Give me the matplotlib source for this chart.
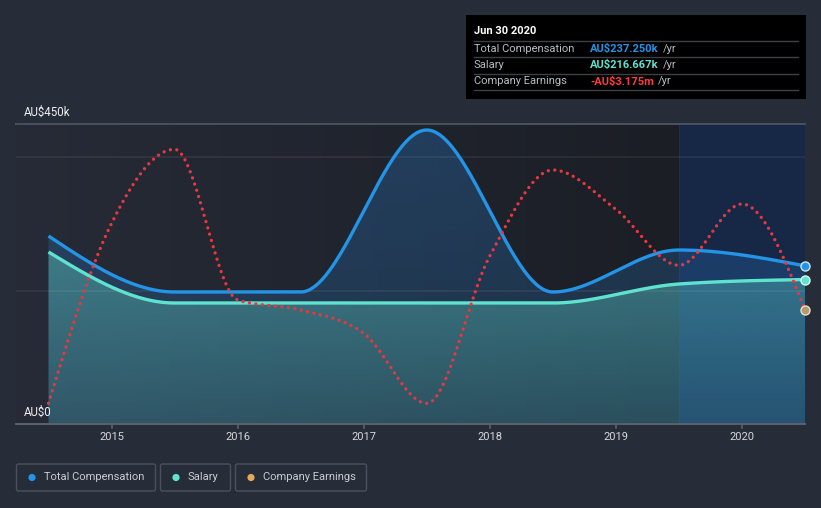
import numpy as np
import matplotlib
matplotlib.use("Agg")
import matplotlib.pyplot as plt
from matplotlib.patches import FancyBboxPatch, Rectangle, Circle
from matplotlib.colors import to_rgb

# ---------------- data ----------------
comp_years = [2014.5, 2015.5, 2016.5, 2017.5, 2018.5, 2019.5, 2020.5]
total_comp = [282, 198, 198, 441, 198, 261, 237.25]          # AU$ k
salary = [258, 181.5, 181.5, 181.5, 181.5, 210, 216.667]      # AU$ k

earn_years = [2014.5, 2015.0, 2015.5, 2016.0, 2016.5, 2017.0, 2017.5,
              2018.0, 2018.5, 2019.0, 2019.5, 2020.0, 2020.5]
# company earnings, drawn on its own (hidden) scale, in display units
earnings_display = [31, 301, 412, 186, 171, 136, 31, 252, 381, 322, 238, 330, 171]

year_ticks = [2015, 2016, 2017, 2018, 2019, 2020]
y_labels = {0: "AU$0", 450: "AU$450k"}
highlight_start = 2019.5

tooltip_title = "Jun 30 2020"
tooltip_rows = [("Total Compensation", "AU$237.250k"),
                ("Salary", "AU$216.667k"),
                ("Company Earnings", "-AU$3.175m")]
legend_labels = ["Total Compensation", "Salary", "Company Earnings"]

# ---------------- style ----------------
BG = "#262c38"
C_TOTAL = "#2394e6"
C_SAL = "#5fe3cf"
C_EARN = "#e8383f"
C_EARN_DOT = "#e5a85a"
TXT = "#d6d9de"
FONT = ["Roboto", "DejaVu Sans"]
plt.rcParams["font.family"] = FONT


def monotone_x(x, y, n=80):
    x = np.asarray(x, float)
    y = np.asarray(y, float)
    m = len(x)
    t = np.zeros(m)
    for i in range(1, m - 1):
        h0 = x[i] - x[i - 1]
        h1 = x[i + 1] - x[i]
        s0 = (y[i] - y[i - 1]) / h0
        s1 = (y[i + 1] - y[i]) / h1
        p = (s0 * h1 + s1 * h0) / (h0 + h1)
        t[i] = (np.sign(s0) + np.sign(s1)) * min(abs(s0), abs(s1), 0.5 * abs(p))
    h = x[1] - x[0]
    t[0] = (3 * (y[1] - y[0]) / h - t[1]) / 2
    h = x[-1] - x[-2]
    t[-1] = (3 * (y[-1] - y[-2]) / h - t[-2]) / 2
    xs, ys = [], []
    for i in range(m - 1):
        h = x[i + 1] - x[i]
        s = np.linspace(0, 1, n, endpoint=(i == m - 2))
        h00 = 2 * s**3 - 3 * s**2 + 1
        h10 = s**3 - 2 * s**2 + s
        h01 = -2 * s**3 + 3 * s**2
        h11 = s**3 - s**2
        xs.append(x[i] + s * h)
        ys.append(h00 * y[i] + h10 * h * t[i] + h01 * y[i + 1] + h11 * h * t[i + 1])
    return np.concatenate(xs), np.concatenate(ys)


W, H = 821, 508
fig = plt.figure(figsize=(W / 100, H / 100), dpi=100)
fig.patch.set_facecolor(BG)

ax_l, ax_r, ax_t, ax_b = 16, 805, 124, 424
ax = fig.add_axes([ax_l / W, (H - ax_b) / H, (ax_r - ax_l) / W, (ax_b - ax_t) / H])
x0 = 2014.5 - (48.5 - 16) / ((805 - 48.5) / 6)
x1 = 2020.5
ax.set_xlim(x0, x1)
ax.set_ylim(0, 450)
ax.set_facecolor("none")
for s in ax.spines.values():
    s.set_visible(False)
ax.set_xticks([])
ax.set_yticks([])

# background gradient (horizontal)
nx = 600
xx = np.linspace(x0, x1, nx)
cl = np.array(to_rgb("#262b37"))
cr = np.array(to_rgb("#1b1e25"))
frac = np.clip((xx - x0) / (highlight_start - x0), 0, 1)[:, None]
row = cl * (1 - frac) + cr * frac
hl = np.array(to_rgb("#17223a"))
row[xx >= highlight_start] = hl
img = np.repeat(row[None, :, :], 2, axis=0)
ax.imshow(img, extent=[x0, x1, 0, 450], aspect="auto", origin="lower", zorder=0,
          interpolation="nearest")


def gradient_fill(xs, ys, color, a_top, a_bot, z):
    poly = ax.fill_between(xs, 0, ys, facecolor="none", edgecolor="none", zorder=z)
    c = to_rgb(color)
    ny = 256
    arr = np.zeros((ny, 2, 4))
    arr[:, :, 0], arr[:, :, 1], arr[:, :, 2] = c
    arr[:, :, 3] = np.linspace(a_bot, a_top, ny)[:, None]
    im = ax.imshow(arr, extent=[xs.min(), xs.max(), 0, ys.max()], aspect="auto",
                   origin="lower", zorder=z, interpolation="bilinear")
    im.set_clip_path(poly.get_paths()[0], transform=ax.transData)


tx, ty = monotone_x(comp_years, total_comp)
sx, sy = monotone_x(comp_years, salary)
ex, ey = monotone_x(earn_years, earnings_display)

gradient_fill(tx, ty, "#2a7fd0", 0.30, 0.18, 1)
gradient_fill(sx, sy, "#5fcfc4", 0.42, 0.20, 2)

# highlight overlay on fills
ax.axvspan(highlight_start, x1, color="#1f6fd8", alpha=0.08, lw=0, zorder=2.5)
ax.axvline(highlight_start, color="#3a6ea8", alpha=0.12, lw=0.8, zorder=2.5)

# grid lines
for gy in (200, 400):
    ax.axhline(gy, color="white", alpha=0.07, lw=1.2, zorder=3)
ax.axhline(450, color="#4b515d", lw=1.4, zorder=3, clip_on=False)
ax.axhline(0, color="#5b616d", lw=1.4, zorder=6, clip_on=False)

# lines
ax.plot(tx, ty, color=C_TOTAL, lw=2.4, zorder=5, solid_capstyle="butt")
ax.plot(sx, sy, color=C_SAL, lw=2.4, zorder=5, solid_capstyle="butt")
ax.plot(ex, ey, color=C_EARN, lw=2.4, zorder=5, linestyle=(0, (0.01, 1.95)),
        dash_capstyle="round")

# end markers
ax.plot([comp_years[-1]], [total_comp[-1]], "o", ms=6.5, mfc=C_TOTAL, mec="#cfe6ff",
        mew=1.0, zorder=7, clip_on=False)
ax.plot([comp_years[-1]], [salary[-1]], "o", ms=6.5, mfc=C_SAL, mec="#dffaf5",
        mew=1.0, zorder=7, clip_on=False)
ax.plot([earn_years[-1]], [earnings_display[-1]], "o", ms=6.5, mfc="#b89a6a",
        mec="#e8e0d0", mew=1.0, zorder=7, clip_on=False)

# ticks
for yr in year_ticks:
    ax.plot([yr, yr], [0, -4 * 450 / 300], color="#5b616d", lw=1.2, clip_on=False, zorder=6)
    ax.text(yr, -13 * 450 / 300, str(yr), ha="center", va="center", color=TXT,
            fontsize=8, clip_on=False)

for v, lab in y_labels.items():
    ax.text(2014.5 - (48.5 - 24) / 126.1, v + 12 * 1.5, lab, ha="left", va="center",
            color="#eef0f2", fontsize=8.3, zorder=8)

# ---------------- overlay in pixel coordinates ----------------
ov = fig.add_axes([0, 0, 1, 1])
ov.set_xlim(0, W)
ov.set_ylim(H, 0)
ov.axis("off")
ov.patch.set_alpha(0)

# tooltip
ov.add_patch(Rectangle((466, 15), 340, 84, facecolor="#000000", edgecolor="none", zorder=1))
ov.text(474, 31, tooltip_title, color="white", fontsize=8, fontweight="bold",
        va="center", ha="left", zorder=2)
for yy in [40.5, 57, 73.5, 90]:
    ov.plot([474, 798], [yy, yy], color="#3c3f44", lw=1, zorder=2)
val_colors = [C_TOTAL, C_SAL, "#ff3c3c"]
row_y = [48.5, 65, 81.5]
fig.canvas.draw()
r = fig.canvas.get_renderer()
for (lab, val), c, yy in zip(tooltip_rows, val_colors, row_y):
    ov.text(474, yy, lab, color="#b8bcc2", fontsize=8, va="center", ha="left", zorder=2)
    t = ov.text(590, yy, val, color=c, fontsize=8, fontweight="bold", va="center",
                ha="left", zorder=2)
    bb = t.get_window_extent(renderer=r)
    ov.text(590 + bb.width + 4.5, yy, "/yr", color="#b8bcc2", fontsize=8, va="center",
            ha="left", zorder=2)

# legend
boxes = [(16, 156), (160, 231), (235, 367)]
dot_colors = [C_TOTAL, C_SAL, C_EARN_DOT]
for (bx0, bx1), lab, dc in zip(boxes, legend_labels, dot_colors):
    ov.add_patch(FancyBboxPatch((bx0 + 0.5, 464), bx1 - bx0 - 1, 27,
                                boxstyle="round,pad=0,rounding_size=2",
                                facecolor="none", edgecolor="#4a505c", lw=1))
    ov.add_patch(Circle((bx0 + 16, 477.5), 3.6, facecolor=dc, edgecolor="none"))
    ov.text(bx0 + 28, 477.5, lab, color="#c9ccd1", fontsize=8, va="center", ha="left")

fig.savefig("out.png", dpi=100, facecolor=BG)
